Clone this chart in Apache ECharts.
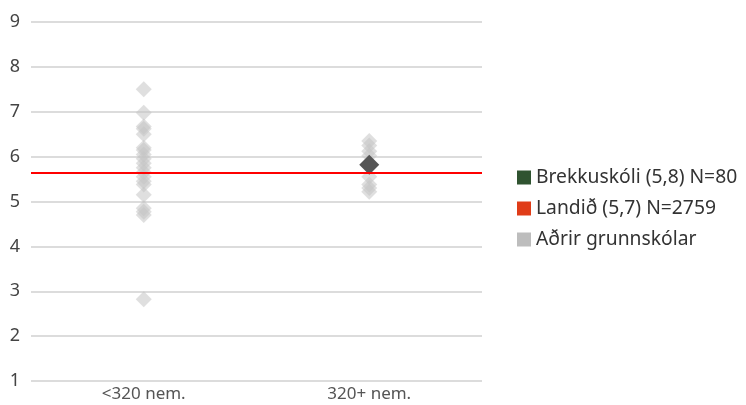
<!DOCTYPE html>
<html lang="is">
<head>
	<meta charset="UTF-8">
	<title>Brekkuskóli</title>
	<script src="https://cdn.jsdelivr.net/npm/echarts@6/dist/echarts.min.js"></script>
	<style>
		html,body{margin:0;padding:0;background:#fff;}
	</style>
</head>
<body>
	<div id="chart" style="width:746px; height:405px;"></div>
<script>
	// flokkar á x-ás
	var categories = ['<320 nem.', '320+ nem.'];
	// aðrir grunnskólar
	var othersSmall = [7.5, 6.98, 6.67, 6.62, 6.5, 6.2, 6.15, 6.05, 5.95, 5.85, 5.75, 5.65, 5.55, 5.45, 5.38, 5.15, 4.85, 4.77, 4.7, 2.82];
	var othersLarge = [6.35, 6.25, 6.12, 6.02, 5.55, 5.38, 5.3, 5.22];
	// skólinn sjálfur
	var schoolName = 'Brekkuskóli (5,8) N=80';
	var schoolPoint = [1, 5.82];
	// landsmeðaltal
	var countryName = 'Landið (5,7) N=2759';
	var countryValue = 5.65;
	var othersName = 'Aðrir grunnskólar';

	var font = '"Noto Sans", sans-serif';

	var othersData = [];
	othersSmall.forEach(function(v){ othersData.push([0, v]); });
	othersLarge.forEach(function(v){ othersData.push([1, v]); });

	var option = {
		animation: false,
		textStyle: {fontFamily: font},
		grid: {left: 31, right: 264, top: 22, bottom: 24},
		legend: {
			orient: 'vertical',
			left: 512,
			top: 163,
			itemWidth: 14,
			itemHeight: 14,
			itemGap: 12,
			icon: 'rect',
			textStyle: {fontSize: 19.3, color: '#333', fontFamily: font},
			data: [
				{name: schoolName, itemStyle: {color: '#2f5330', opacity: 1}},
				{name: countryName, itemStyle: {color: '#e03c18', opacity: 1}},
				{name: othersName, itemStyle: {color: '#bdbdbd', opacity: 1}}
			]
		},
		xAxis: {
			type: 'category',
			data: categories,
			axisLine: {show: false},
			axisTick: {show: false},
			axisLabel: {fontSize: 17, color: '#555', margin: 5}
		},
		yAxis: {
			type: 'value',
			min: 1,
			max: 9,
			interval: 1,
			axisLine: {show: false},
			axisTick: {show: false},
			axisLabel: {fontSize: 18, color: '#444', margin: 11},
			splitLine: {lineStyle: {color: '#dcdcdc', width: 2}}
		},
		series: [
			{
				name: othersName,
				type: 'scatter',
				symbol: 'diamond',
				symbolSize: 16,
				itemStyle: {color: '#c4c4c4', opacity: 0.55},
				data: othersData,
				z: 2
			},
			{
				name: countryName,
				type: 'line',
				data: [],
				itemStyle: {color: '#e03c18'},
				markLine: {
					silent: true,
					symbol: 'none',
					label: {show: false},
					lineStyle: {color: '#ff0000', width: 2, type: 'solid'},
					data: [{yAxis: countryValue}]
				},
				z: 3
			},
			{
				name: schoolName,
				type: 'scatter',
				symbol: 'diamond',
				symbolSize: 20,
				itemStyle: {color: '#555555', opacity: 1},
				data: [schoolPoint],
				z: 4
			}
		]
	};

	var myChart = echarts.init(document.getElementById('chart'));
	myChart.setOption(option);
</script>
</body>
</html>
